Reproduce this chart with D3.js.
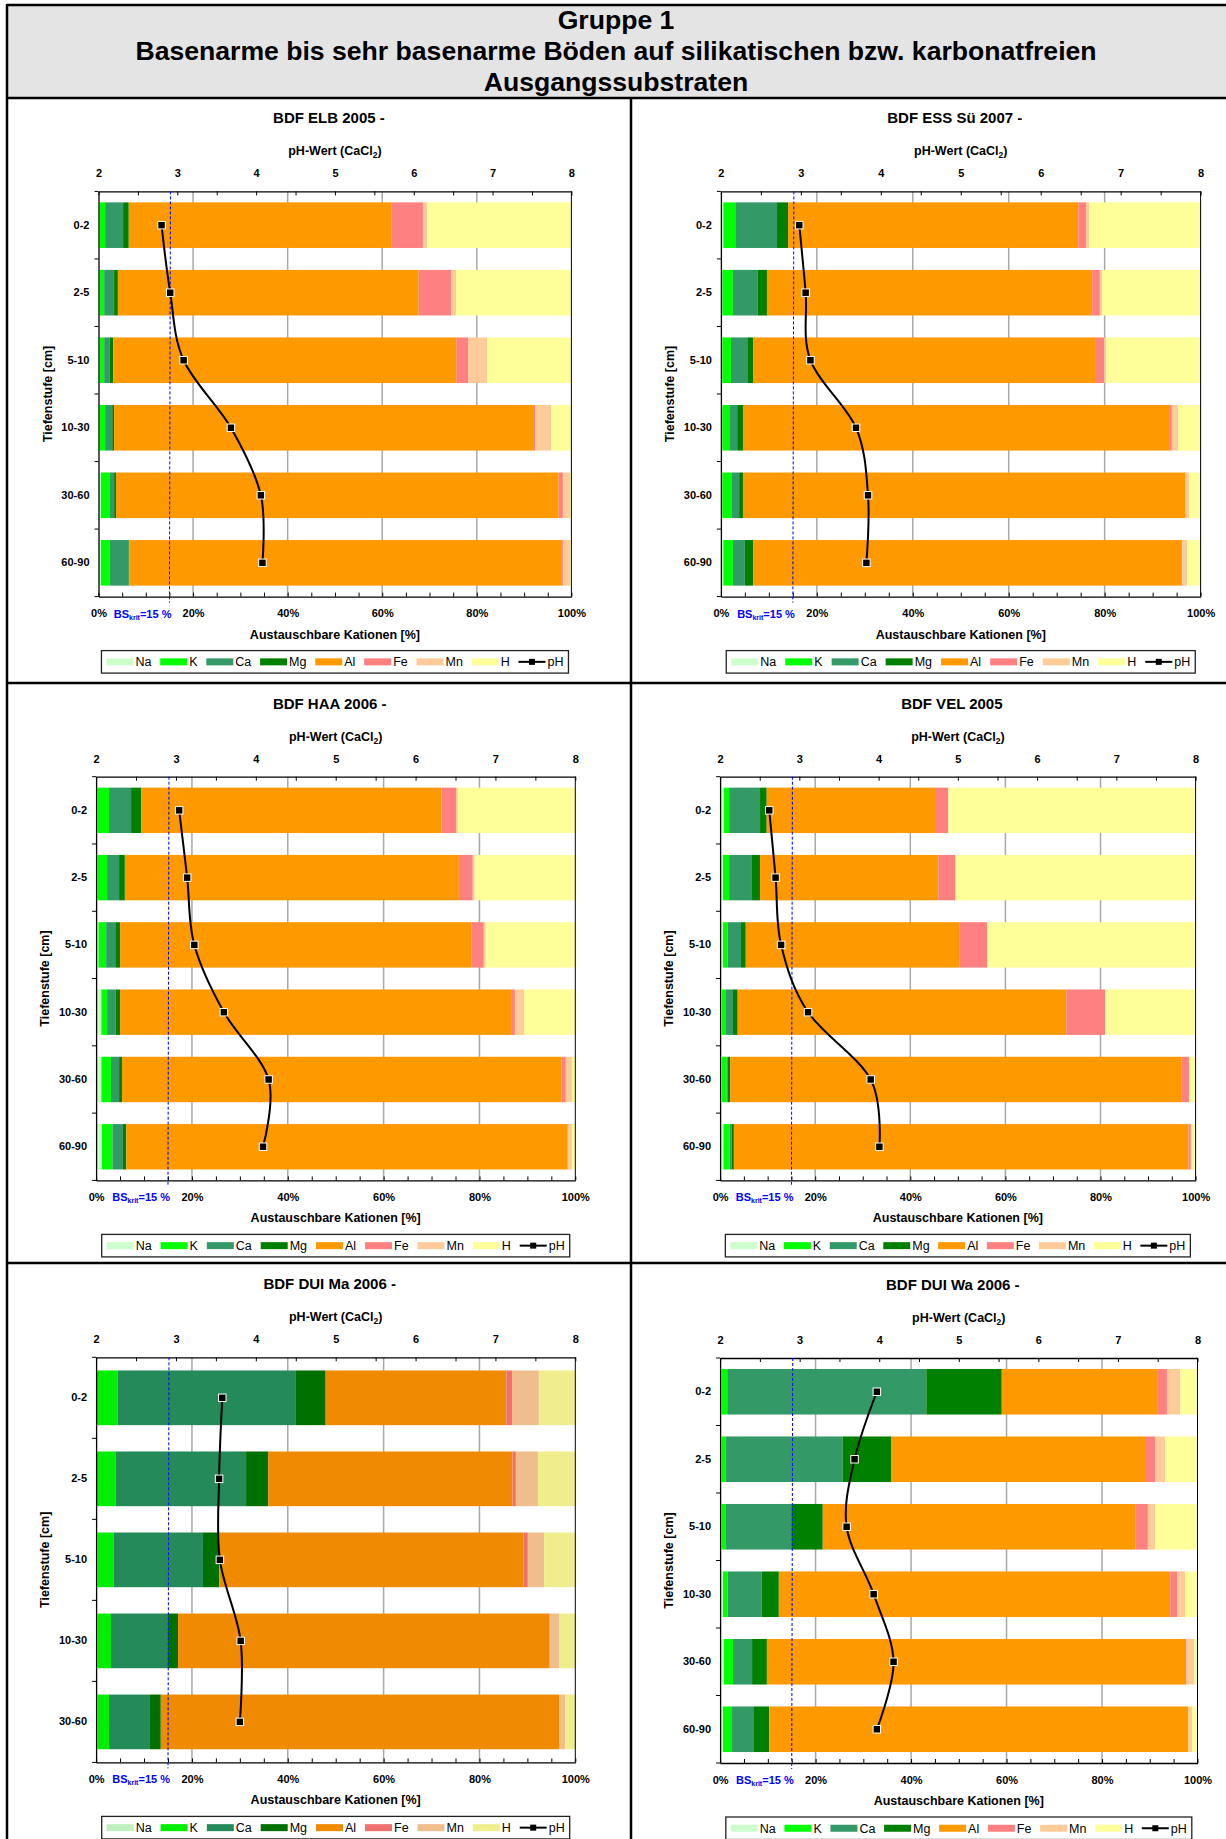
<!DOCTYPE html>
<html><head><meta charset="utf-8">
<script src="https://cdn.jsdelivr.net/npm/d3@7"></script>
<style>
body{margin:0;background:#fff}
text{font-family:"Liberation Sans",Arial,sans-serif}
</style></head>
<body><svg id="c" width="1226" height="1839"></svg>
<script>
// ---------- DATA ----------
const headerLines = ["Gruppe 1", "Basenarme bis sehr basenarme Böden auf silikatischen bzw. karbonatfreien", "Ausgangssubstraten"];
const cations = ["Na", "K", "Ca", "Mg", "Al", "Fe", "Mn", "H"];
const depths6 = ["0-2", "2-5", "5-10", "10-30", "30-60", "60-90"];
const depths5 = ["0-2", "2-5", "5-10", "10-30", "30-60"];
const pctTicks = [0, 20, 40, 60, 80, 100];
const phTicks = [2, 3, 4, 5, 6, 7, 8];
const bsKrit = 15;
const siteTitles = ["BDF ELB 2005 -", "BDF ESS Sü 2007 -", "BDF HAA 2006 -", "BDF VEL 2005", "BDF DUI Ma 2006 -", "BDF DUI Wa 2006 -"];

// rows: depth levels; columns: Na, K, Ca, Mg, Al, Fe, Mn, H  [% of exchangeable cations]
const elbValues = [
  [0.3, 1.1, 3.8, 1.2, 55.5, 6.7, 0.9, 30.5],
  [0.3, 0.9, 2.1, 0.8, 63.6, 6.9, 1.0, 24.4],
  [0.3, 0.9, 1.2, 0.7, 72.6, 2.5, 4.0, 17.8],
  [0.3, 1.1, 1.5, 0.4, 88.6, 0.4, 3.4, 4.3],
  [0.5, 1.8, 1.0, 0.4, 93.6, 0.9, 1.5, 0.3],
  [0.5, 1.9, 4.0, 0.1, 91.5, 0.2, 1.5, 0.3]
];
const elbPH = [2.80, 2.91, 3.08, 3.68, 4.06, 4.08];

const essValues = [
  [0.5, 2.5, 8.7, 2.3, 60.5, 1.6, 0.7, 23.2],
  [0.3, 2.2, 5.2, 1.9, 67.8, 1.6, 0.5, 20.5],
  [0.3, 1.8, 3.4, 1.2, 71.3, 1.9, 0.4, 19.7],
  [0.3, 1.6, 1.5, 1.2, 89.0, 0.4, 1.3, 4.7],
  [0.3, 2.0, 1.5, 0.8, 92.2, 0.1, 0.7, 2.4],
  [0.5, 2.0, 2.5, 1.7, 89.4, 0.1, 1.0, 2.8]
];
const essPH = [2.98, 3.06, 3.12, 3.69, 3.84, 3.82];

const haaValues = [
  [0.3, 2.4, 4.6, 2.1, 62.7, 3.0, 0.4, 24.5],
  [0.3, 2.0, 2.5, 1.2, 69.7, 2.9, 0.4, 21.0],
  [0.5, 1.6, 1.9, 1.0, 73.3, 2.6, 0.4, 18.7],
  [1.1, 1.2, 1.8, 0.9, 81.6, 0.8, 1.9, 10.7],
  [1.1, 2.0, 1.7, 0.6, 91.7, 0.9, 1.3, 0.7],
  [1.2, 2.2, 2.2, 0.7, 92.1, 0.1, 0.8, 0.7]
];
const haaPH = [3.04, 3.14, 3.23, 3.60, 4.16, 4.09];

const velValues = [
  [0.8, 1.1, 6.5, 1.4, 35.6, 2.6, 0.0, 52.0],
  [0.6, 1.3, 4.8, 1.7, 37.5, 3.6, 0.0, 50.5],
  [0.6, 1.0, 2.8, 1.0, 44.9, 5.9, 0.0, 43.8],
  [0.4, 0.7, 1.6, 1.0, 69.1, 8.2, 0.0, 19.0],
  [0.4, 1.0, 0.2, 0.5, 95.0, 1.5, 0.1, 1.3],
  [0.7, 1.3, 0.4, 0.5, 95.6, 0.5, 0.2, 0.8]
];
const velPH = [2.62, 2.70, 2.77, 3.11, 3.90, 4.01];

const duiMaValues = [
  [0.2, 4.3, 37.2, 6.2, 37.7, 1.2, 5.6, 7.6],
  [0.2, 3.9, 27.2, 4.6, 51.0, 0.7, 4.6, 7.8],
  [0.3, 3.4, 18.6, 3.4, 63.5, 0.9, 3.4, 6.5],
  [0.3, 2.8, 11.9, 2.1, 77.5, 0.1, 1.9, 3.4],
  [0.3, 2.4, 8.4, 2.4, 83.1, 0.0, 1.3, 2.1]
];
const duiMaPH = [3.58, 3.54, 3.55, 3.81, 3.80];

const duiWaValues = [
  [0.3, 1.2, 41.7, 15.8, 32.7, 1.9, 2.8, 3.6],
  [0.3, 0.9, 24.5, 10.1, 53.2, 2.1, 2.1, 6.8],
  [0.3, 0.8, 13.8, 6.6, 65.5, 2.6, 1.5, 8.9],
  [0.6, 1.0, 7.1, 3.6, 82.0, 1.4, 1.7, 2.6],
  [0.8, 1.9, 4.0, 3.1, 87.8, 0.1, 1.6, 0.7],
  [0.6, 1.9, 4.6, 3.2, 87.8, 0.0, 0.8, 1.1]
];
const duiWaPH = [3.97, 3.69, 3.59, 3.93, 4.18, 3.97];

const colorsStd = ["#ccffcc", "#00ff00", "#339966", "#008000", "#ff9900", "#ff8080", "#ffcc99", "#ffff99"];
const colorsDuiMa = ["#c0f0c0", "#00ee00", "#248a5a", "#007000", "#f08a00", "#f07070", "#f0be8c", "#f0ee8c"];

// ---------- LAYOUT ----------
const svg = d3.select("#c");
const FONT = '"Liberation Sans",Arial,sans-serif';

// header
svg.append("rect").attr("x", 7).attr("y", 5).attr("width", 1226 - 7).attr("height", 93).attr("fill", "#e4e4e4");
const hBase = [29, 60, 91];
svg.selectAll(".hdr").data(headerLines).join("text")
  .attr("x", 616).attr("y", (d, i) => hBase[i]).attr("text-anchor", "middle")
  .attr("font-size", 26.6).attr("font-weight", "bold").attr("fill", "#000").text(d => d);

// frame lines
const frame = [
  [7, 5, 1226, 5], [7, 98, 1226, 98], [7, 4, 7, 1839], [631, 98, 631, 1839],
  [7, 683, 1226, 683], [7, 1263, 1226, 1263]
];
svg.selectAll(".fr").data(frame).join("line")
  .attr("x1", d => d[0]).attr("y1", d => d[1]).attr("x2", d => d[2]).attr("y2", d => d[3])
  .attr("stroke", "#000").attr("stroke-width", 2.5);

const panels = [
  {x0: 98.5, x1: 571.4, y0: 191.4, y1: 596.6, depths: depths6, values: elbValues, ph: elbPH, title: siteTitles[0], colors: colorsStd, lw: 467},
  {x0: 720.9, x1: 1200.6, y0: 191.4, y1: 596.6, depths: depths6, values: essValues, ph: essPH, title: siteTitles[1], colors: colorsStd, lw: 469},
  {x0: 96.1, x1: 575.3, y0: 776.7, y1: 1180.4, depths: depths6, values: haaValues, ph: haaPH, title: siteTitles[2], colors: colorsStd, lw: 468},
  {x0: 720.1, x1: 1195.6, y0: 776.7, y1: 1180.4, depths: depths6, values: velValues, ph: velPH, title: siteTitles[3], colors: colorsStd, lw: 465},
  {x0: 96.1, x1: 575.3, y0: 1357.3, y1: 1762.4, depths: depths5, values: duiMaValues, ph: duiMaPH, title: siteTitles[4], colors: colorsDuiMa, lw: 468},
  {x0: 720.1, x1: 1197.5, y0: 1358, y1: 1763, depths: depths6, values: duiWaValues, ph: duiWaPH, title: siteTitles[5], colors: colorsStd, lw: 466}
];

panels.forEach(drawPanel);

function drawPanel(p) {
  const g = svg.append("g");
  const xs = d3.scaleLinear().domain([0, 100]).range([p.x0, p.x1]);
  const xph = d3.scaleLinear().domain([2, 8]).range([p.x0, p.x1]);
  const yb = d3.scaleBand().domain(p.depths).range([p.y0, p.y1]).paddingInner(0.325).paddingOuter(0.1625);
  const cx = (p.x0 + p.x1) / 2;

  // titles
  g.append("text").attr("x", cx - 6).attr("y", p.y0 - 68).attr("text-anchor", "middle")
    .attr("font-size", 15).attr("font-weight", "bold").text(p.title);
  const pt = g.append("text").attr("x", cx).attr("y", p.y0 - 36).attr("text-anchor", "middle")
    .attr("font-size", 12.5).attr("font-weight", "bold");
  pt.append("tspan").text("pH-Wert (CaCl");
  pt.append("tspan").attr("font-size", 8.5).attr("dy", 3).text("2");
  pt.append("tspan").attr("dy", -3).text(")");

  // gridlines
  g.selectAll(".grid").data([20, 40, 60, 80]).join("line")
    .attr("x1", d => xs(d)).attr("x2", d => xs(d)).attr("y1", p.y0).attr("y2", p.y1)
    .attr("stroke", "#a8a8a8").attr("stroke-width", 1.5);

  // stacked bars
  const rows = p.depths.map((d, i) => {
    const o = {depth: d};
    cations.forEach((c, j) => o[c] = p.values[i][j]);
    return o;
  });
  const series = d3.stack().keys(cations)(rows);
  const color = d3.scaleOrdinal().domain(cations).range(p.colors);
  g.selectAll(".ser").data(series).join("g").attr("fill", s => color(s.key))
    .selectAll("rect").data(s => s).join("rect")
    .attr("x", d => xs(d[0])).attr("width", d => Math.max(0, xs(d[1]) - xs(d[0])))
    .attr("y", d => yb(d.data.depth)).attr("height", yb.bandwidth());

  // right frame line at 100%
  g.append("line").attr("x1", xs(100)).attr("x2", xs(100)).attr("y1", p.y0).attr("y2", p.y1)
    .attr("stroke", "#000").attr("stroke-width", 1);

  // top axis (pH)
  const topAx = d3.axisTop(xph).tickValues(d3.range(2, 8.01, 0.5)).tickSize(-4).tickSizeOuter(0)
    .tickPadding(14).tickFormat(d => phTicks.includes(d) ? d3.format("d")(d) : "");
  const ta = g.append("g").attr("transform", `translate(0,${p.y0})`).call(topAx);
  // bottom axis (%)
  const botAx = d3.axisBottom(xs).tickValues(d3.range(0, 100.01, 5)).tickSize(-4).tickSizeOuter(0)
    .tickPadding(13).tickFormat(d => pctTicks.includes(d) ? d + "%" : "");
  const ba = g.append("g").attr("transform", `translate(0,${p.y1})`).call(botAx);
  // left axis (depth)
  const leftAx = d3.axisLeft(yb).tickSize(0).tickSizeOuter(0).tickPadding(9);
  const la = g.append("g").attr("transform", `translate(${p.x0},0)`).call(leftAx);
  [ta, ba, la].forEach(a => {
    a.selectAll("text").attr("font-family", FONT).attr("font-size", 11).attr("font-weight", "bold").attr("fill", "#000");
    a.select(".domain").attr("stroke", "#000").attr("stroke-width", 1.3);
    a.selectAll(".tick line").attr("stroke", "#000");
  });
  // band boundary ticks on left axis
  const bounds = p.depths.map(d => yb(d) - yb.step() * yb.paddingInner() / 2).concat([p.y1]);
  g.selectAll(".lt").data(bounds).join("line")
    .attr("x1", p.x0 - 4).attr("x2", p.x0).attr("y1", d => d).attr("y2", d => d)
    .attr("stroke", "#000").attr("stroke-width", 1);

  // axis titles
  g.append("text").attr("x", cx).attr("y", p.y1 + 42).attr("text-anchor", "middle")
    .attr("font-size", 12.5).attr("font-weight", "bold").text("Austauschbare Kationen [%]");
  g.append("text").attr("transform", `translate(${p.x0 - 51},${(p.y0 + p.y1) / 2}) rotate(-90)`)
    .attr("text-anchor", "middle").attr("dy", "0.35em")
    .attr("font-size", 12.5).attr("font-weight", "bold").text("Tiefenstufe [cm]");

  // BS krit line
  const bx = xs(bsKrit);
  g.append("line").attr("x1", bx + 1).attr("x2", bx).attr("y1", p.y0).attr("y2", p.y1 + 6)
    .attr("stroke", "#0000ff").attr("stroke-width", 1).attr("stroke-dasharray", "3,2");
  const bt = g.append("text").attr("x", bx + 2).attr("y", p.y1 + 21).attr("text-anchor", "end")
    .attr("font-size", 11).attr("font-weight", "bold").attr("fill", "#0000ff");
  bt.append("tspan").text("BS");
  bt.append("tspan").attr("font-size", 7).attr("dy", 2).text("krit");
  bt.append("tspan").attr("dy", -2).text("=15 %");

  // pH curve
  const pts = p.depths.map((d, i) => ({depth: d, v: p.ph[i]}));
  const line = d3.line().x(d => xph(d.v)).y(d => yb(d.depth) + yb.bandwidth() / 2)
    .curve(d3.curveCardinal.tension(0));
  g.append("path").attr("d", line(pts)).attr("fill", "none").attr("stroke", "#000").attr("stroke-width", 2);
  g.selectAll(".mk").data(pts).join("rect")
    .attr("x", d => xph(d.v) - 3.75).attr("y", d => yb(d.depth) + yb.bandwidth() / 2 - 3.75)
    .attr("width", 7.5).attr("height", 7.5).attr("fill", "#000").attr("stroke", "#fff").attr("stroke-width", 1);

  // legend
  const ly = p.y1 + 54, lh = 22.5;
  const lx = cx - p.lw / 2;
  g.append("rect").attr("x", lx).attr("y", ly).attr("width", p.lw).attr("height", lh)
    .attr("fill", "#fff").attr("stroke", "#222").attr("stroke-width", 1.3);
  const items = cations.concat(["pH"]);
  const lg = g.append("g");
  const texts = items.map(name => lg.append("text").attr("font-size", 12.5).attr("y", ly + lh / 2 + 4.5).text(name));
  const widths = texts.map(t => t.node().getComputedTextLength());
  const sw = 27, sg = 2, pad = 5;
  const total = d3.sum(widths) + items.length * (sw + sg);
  const gap = (p.lw - 2 * pad - total) / (items.length - 1);
  let cur = lx + pad;
  items.forEach((name, i) => {
    if (name === "pH") {
      lg.append("line").attr("x1", cur).attr("x2", cur + sw).attr("y1", ly + lh / 2).attr("y2", ly + lh / 2)
        .attr("stroke", "#000").attr("stroke-width", 2);
      lg.append("rect").attr("x", cur + sw / 2 - 3).attr("y", ly + lh / 2 - 3).attr("width", 6).attr("height", 6).attr("fill", "#000");
    } else {
      lg.append("rect").attr("x", cur).attr("y", ly + lh / 2 - 3.5).attr("width", sw).attr("height", 7)
        .attr("fill", color(name));
    }
    texts[i].attr("x", cur + sw + sg);
    cur += sw + sg + widths[i] + gap;
  });
}
</script></body></html>
